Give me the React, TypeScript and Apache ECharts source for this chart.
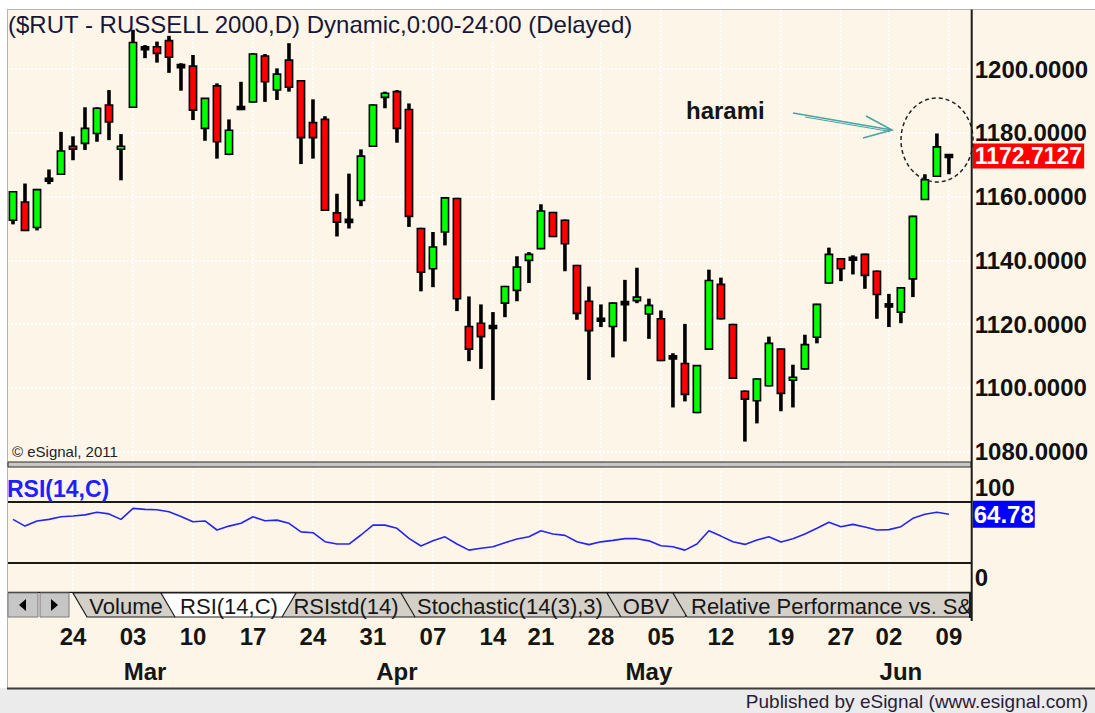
import React, { useEffect, useRef } from 'react';
import * as echarts from 'echarts';

const dates = [
  '2011-02-16', '2011-02-17', '2011-02-18', '2011-02-22', '2011-02-23', '2011-02-24', '2011-02-25', '2011-02-28',
  '2011-03-01', '2011-03-02', '2011-03-03', '2011-03-04', '2011-03-07', '2011-03-08', '2011-03-09', '2011-03-10',
  '2011-03-11', '2011-03-14', '2011-03-15', '2011-03-16', '2011-03-17', '2011-03-18', '2011-03-21', '2011-03-22',
  '2011-03-23', '2011-03-24', '2011-03-25', '2011-03-28', '2011-03-29', '2011-03-30', '2011-03-31',
  '2011-04-01', '2011-04-04', '2011-04-05', '2011-04-06', '2011-04-07', '2011-04-08', '2011-04-11', '2011-04-12',
  '2011-04-13', '2011-04-14', '2011-04-15', '2011-04-18', '2011-04-19', '2011-04-20', '2011-04-21', '2011-04-25',
  '2011-04-26', '2011-04-27', '2011-04-28', '2011-04-29',
  '2011-05-02', '2011-05-03', '2011-05-04', '2011-05-05', '2011-05-06', '2011-05-09', '2011-05-10', '2011-05-11',
  '2011-05-12', '2011-05-13', '2011-05-16', '2011-05-17', '2011-05-18', '2011-05-19', '2011-05-20', '2011-05-23',
  '2011-05-24', '2011-05-25', '2011-05-26', '2011-05-27', '2011-05-31',
  '2011-06-01', '2011-06-02', '2011-06-03', '2011-06-06', '2011-06-07', '2011-06-08', '2011-06-09',
];

const opens = [
  1152.6, 1158.3, 1150.3, 1165.3, 1167.0, 1175.6, 1176.7, 1179.8, 1188.7, 1175.0,
  1188.0, 1206.5, 1207.0, 1208.9, 1200.9, 1200.9, 1181.4, 1194.7, 1173.3, 1187.8,
  1189.7, 1204.1, 1193.4, 1202.8, 1196.3, 1183.2, 1184.2, 1154.9, 1152.4, 1158.8,
  1175.8, 1191.1, 1192.9, 1187.3, 1150.0, 1137.4, 1148.9, 1159.4, 1119.3, 1120.3,
  1119.1, 1126.6, 1130.6, 1140.0, 1143.7, 1155.0, 1152.6, 1138.4, 1127.2, 1121.4,
  1119.3, 1126.6, 1127.4, 1123.2, 1121.7, 1109.6, 1107.7, 1092.3, 1112.2, 1132.5,
  1119.9, 1099.0, 1096.0, 1100.7, 1112.2, 1102.5, 1106.0, 1115.9, 1132.9, 1140.5,
  1140.5, 1141.9, 1136.6, 1125.9, 1123.8, 1134.2, 1159.1, 1166.4, 1172.7127,
];

const highs = [
  1161.7, 1164.1, 1162.4, 1168.5, 1180.3, 1178.9, 1188.0, 1188.0, 1193.4, 1179.6,
  1212.3, 1207.5, 1208.6, 1210.4, 1201.8, 1204.4, 1190.9, 1195.5, 1184.2, 1196.0,
  1205.0, 1204.7, 1200.2, 1208.1, 1196.5, 1190.5, 1185.2, 1160.9, 1167.2, 1174.8,
  1188.9, 1192.9, 1193.4, 1189.2, 1150.2, 1148.9, 1159.9, 1159.6, 1128.7, 1126.2,
  1123.8, 1132.0, 1141.3, 1142.6, 1157.6, 1155.2, 1152.8, 1138.6, 1131.8, 1126.2,
  1126.8, 1133.9, 1137.7, 1128.0, 1124.3, 1110.9, 1120.1, 1107.2, 1137.1, 1134.6,
  1120.1, 1099.2, 1103.0, 1116.1, 1112.4, 1107.3, 1116.7, 1126.4, 1144.0, 1140.7,
  1141.6, 1142.1, 1136.8, 1129.5, 1131.6, 1154.0, 1167.0, 1179.8, 1173.2,
];

const lows = [
  1151.3, 1149.2, 1149.4, 1163.9, 1166.8, 1171.4, 1174.6, 1177.2, 1177.7, 1165.1,
  1187.9, 1203.4, 1202.0, 1198.8, 1193.2, 1184.0, 1177.5, 1171.9, 1173.0, 1187.1,
  1189.5, 1189.7, 1190.3, 1192.9, 1170.2, 1171.9, 1155.5, 1147.5, 1150.0, 1157.0,
  1175.7, 1187.7, 1176.9, 1150.5, 1130.3, 1131.6, 1144.7, 1124.1, 1108.4, 1106.0,
  1096.2, 1122.2, 1127.2, 1132.9, 1143.5, 1147.3, 1136.6, 1121.4, 1102.5, 1119.1,
  1109.6, 1114.6, 1126.6, 1115.4, 1108.4, 1093.9, 1095.8, 1092.1, 1112.0, 1121.5,
  1102.9, 1083.2, 1088.9, 1100.5, 1092.7, 1093.9, 1105.8, 1114.0, 1132.7, 1133.5,
  1135.6, 1131.1, 1121.7, 1119.1, 1120.3, 1128.5, 1159.0, 1166.2, 1167.0,
];

const closes = [
  1161.5, 1149.4, 1162.2, 1165.3, 1174.3, 1175.0, 1181.4, 1187.7, 1183.4, 1175.6,
  1208.3, 1206.5, 1204.9, 1203.7, 1200.9, 1187.1, 1190.8, 1177.2, 1180.8, 1187.8,
  1204.7, 1196.0, 1198.4, 1194.3, 1178.5, 1178.5, 1155.7, 1152.0, 1152.4, 1172.7,
  1188.7, 1192.4, 1181.4, 1153.8, 1136.3, 1144.2, 1159.6, 1128.0, 1112.2, 1116.1,
  1119.1, 1131.8, 1137.9, 1141.9, 1155.5, 1147.5, 1145.2, 1123.4, 1118.0, 1121.4,
  1126.6, 1126.6, 1128.5, 1125.9, 1108.6, 1109.6, 1098.0, 1107.0, 1133.7, 1121.7,
  1103.1, 1096.5, 1102.8, 1114.0, 1098.3, 1103.3, 1113.6, 1126.2, 1141.9, 1137.4,
  1140.5, 1135.3, 1129.3, 1125.9, 1131.4, 1153.8, 1165.3, 1175.6, 1172.7127,
];

const rsiValues = [
  60.5, 55.0, 59.2, 60.5, 62.7, 63.3, 64.2, 66.3, 65.0, 60.5,
  69.5, 68.7, 68.4, 66.7, 62.9, 58.6, 59.2, 51.8, 55.0, 57.3,
  62.7, 59.4, 59.9, 57.3, 50.3, 49.6, 42.2, 40.3, 40.3, 47.7,
  55.8, 55.8, 53.2, 45.0, 38.7, 43.0, 46.2, 40.3, 35.3, 36.8,
  38.1, 41.4, 44.4, 46.2, 51.2, 48.5, 47.4, 42.2, 39.8, 42.1,
  43.3, 44.7, 44.7, 42.9, 38.9, 38.1, 35.3, 40.3, 51.2, 46.8,
  42.2, 40.0, 43.6, 46.2, 41.9, 44.7, 48.5, 53.2, 58.1, 54.5,
  56.4, 54.2, 51.8, 52.1, 54.5, 61.4, 64.7, 66.3, 64.78,
];

const priceTicks = [1080, 1100, 1120, 1140, 1160, 1180, 1200];
const rsiTicks = [0, 100];
const rsiBands = [75, 25];
// week labels as printed by the reference, and the sessions they are printed under
const dayTickLabels = ['24', '03', '10', '17', '24', '31', '07', '14', '21', '28', '05', '12', '19', '27', '02', '09'];
const dayTickDates = [
  '2011-02-24', '2011-03-03', '2011-03-10', '2011-03-17', '2011-03-24', '2011-03-31', '2011-04-07', '2011-04-14',
  '2011-04-20', '2011-04-28', '2011-05-05', '2011-05-12', '2011-05-19', '2011-05-26', '2011-06-02', '2011-06-09',
];
const monthTickDates = ['2011-03-04', '2011-04-04', '2011-05-04', '2011-06-03'];
const monthNames = ['Mar', 'Apr', 'May', 'Jun'];
const tabNames = ['Volume', 'RSI(14,C)', 'RSIstd(14)', 'Stochastic(14(3),3)', 'OBV', 'Relative Performance vs. S&'];
const titleText = '($RUT - RUSSELL 2000,D) Dynamic,0:00-24:00 (Delayed)';
const annotationText = 'harami';

const FONT = '"Liberation Sans", Arial, sans-serif';
const CREAM = '#FDF6E8';

export default function App() {
  const ref = useRef<HTMLDivElement>(null);

  useEffect(() => {
    if (!ref.current) return;
    const chart = echarts.init(ref.current, undefined, { renderer: 'svg' });

    const lastPrice = closes[closes.length - 1];
    const lastRsi = rsiValues[rsiValues.length - 1];
    const dayIdx = dayTickDates.map((d) => dates.indexOf(d));
    const monthIdx = monthTickDates.map((d) => dates.indexOf(d));
    const xMin = -0.5;
    const xMax = 79.9;

    const candleData = dates.map((_, i) => [i, opens[i], closes[i], lows[i], highs[i]]);
    const rsiData = rsiValues.map((v, i) => [i, v]);

    const dotted = { show: true, lineStyle: { color: '#ffffff', type: 'dotted' as const, width: 2 } };

    const tabY0 = 593;
    const tabY1 = 617;
    const tabShapes = [
      [[73, tabY0], [189, tabY0], [175, tabY1], [87, tabY1]],
      [[161, tabY0], [296, tabY0], [282, tabY1], [175, tabY1]],
      [[268, tabY0], [429, tabY0], [415, tabY1], [282, tabY1]],
      [[401, tabY0], [634, tabY0], [620, tabY1], [415, tabY1]],
      [[607, tabY0], [699, tabY0], [685, tabY1], [621, tabY1]],
      [[673, tabY0], [970, tabY0], [970, tabY1], [687, tabY1]],
    ];
    const tabTextX = [126, 229, 346, 510, 646, 691];
    const drawOrder = [0, 2, 3, 4, 5, 1];
    const tabElements: any[] = [];
    drawOrder.forEach((k) => {
      tabElements.push({
        type: 'polygon',
        z: 20,
        shape: { points: tabShapes[k] },
        style: { fill: k === 1 ? '#ffffff' : '#D4D0C8', stroke: '#1e1e1e', lineWidth: 1.2 },
      });
      tabElements.push({
        type: 'text',
        z: 21,
        x: tabTextX[k],
        y: 606,
        style: {
          text: tabNames[k],
          font: `22px ${FONT}`,
          fill: '#161616',
          align: k === 5 ? 'left' : 'center',
          verticalAlign: 'middle',
        },
      });
    });

    const option: any = {
      animation: false,
      backgroundColor: CREAM,
      grid: [
        { left: 7, top: 10, width: 964.7, height: 452 },
        { left: 7, top: 471.2, width: 964.7, height: 122 },
      ],
      xAxis: [
        {
          type: 'value', gridIndex: 0, min: xMin, max: xMax,
          axisLine: { show: false }, axisLabel: { show: false },
          axisTick: { show: false, customValues: dayIdx },
          splitLine: dotted,
        },
        {
          type: 'value', gridIndex: 1, min: xMin, max: xMax, position: 'bottom',
          axisLine: { show: false },
          axisTick: { show: false, customValues: dayIdx },
          axisLabel: {
            customValues: dayIdx,
            formatter: (v: number) => dayTickLabels[dayIdx.indexOf(Math.round(v))],
            fontFamily: FONT, fontWeight: 'bold', fontSize: 24, color: '#151515', margin: 31,
          },
          splitLine: dotted,
        },
        {
          type: 'value', gridIndex: 1, min: xMin, max: xMax, position: 'bottom',
          axisLine: { show: false },
          axisTick: { show: false, customValues: monthIdx },
          axisLabel: {
            customValues: monthIdx,
            formatter: (v: number) => monthNames[monthIdx.indexOf(Math.round(v))],
            fontFamily: FONT, fontWeight: 'bold', fontSize: 24, color: '#151515', margin: 66,
          },
          splitLine: { show: false },
        },
      ],
      yAxis: [
        {
          type: 'value', gridIndex: 0, position: 'right', min: 1076.8, max: 1218.5,
          axisLine: { show: false },
          axisTick: { show: false, customValues: priceTicks },
          axisLabel: {
            customValues: priceTicks,
            formatter: (v: number) => v.toFixed(4),
            fontFamily: FONT, fontWeight: 'bold', fontSize: 24, color: '#111111', margin: 3,
          },
          splitLine: dotted,
        },
        {
          type: 'value', gridIndex: 1, position: 'right', min: 0, max: 100,
          axisLine: { show: false },
          axisTick: { show: false, customValues: rsiTicks },
          splitLine: { show: false },
          axisLabel: {
            customValues: rsiTicks,
            margin: 3,
            formatter: (v: number) => (v >= 100 ? `{t|${v}}` : `{b|${v}}`),
            rich: {
              t: { fontFamily: FONT, fontWeight: 'bold', fontSize: 24, color: '#111111', padding: [32, 0, 0, 0] },
              b: { fontFamily: FONT, fontWeight: 'bold', fontSize: 24, color: '#111111', padding: [0, 0, 32, 0] },
            },
          },
        },
      ],
      series: [
        {
          type: 'custom',
          name: 'RUT',
          xAxisIndex: 0,
          yAxisIndex: 0,
          clip: true,
          encode: { x: 0, y: [1, 2, 3, 4] },
          data: candleData,
          renderItem: (params: any, api: any) => {
            const i = api.value(0);
            const o = api.value(1);
            const c = api.value(2);
            const l = api.value(3);
            const h = api.value(4);
            const ph = api.coord([i, h]);
            const pl = api.coord([i, l]);
            const po = api.coord([i, o]);
            const pc = api.coord([i, c]);
            const x = ph[0];
            let top = Math.min(po[1], pc[1]);
            let hgt = Math.abs(po[1] - pc[1]);
            const fill = c > o ? '#00FF00' : c < o ? '#FF0000' : '#000000';
            if (hgt < 3) {
              top = (po[1] + pc[1]) / 2 - 1.5;
              hgt = 3;
            }
            return {
              type: 'group',
              children: [
                {
                  type: 'rect',
                  shape: { x: x - 1.8, y: ph[1], width: 3.6, height: pl[1] - ph[1] },
                  style: { fill: '#000000' },
                },
                {
                  type: 'rect',
                  shape: { x: x - 3.6, y: top, width: 7.2, height: hgt },
                  style: { fill, stroke: '#000000', lineWidth: 1.6 },
                },
              ],
            };
          },
          markLine: {
            silent: true,
            symbol: ['none', 'none'],
            animation: false,
            data: [
              {
                yAxis: lastPrice,
                lineStyle: { color: 'rgba(0,0,0,0)', width: 0 },
                label: {
                  show: true,
                  position: 'end',
                  distance: 1,
                  formatter: () => lastPrice.toFixed(4),
                  backgroundColor: '#FF0000',
                  color: '#ffffff',
                  fontFamily: FONT,
                  fontWeight: 'bold',
                  fontSize: 23,
                  lineHeight: 24,
                  padding: [1, 2, 0, 2],
                },
              },
            ],
          },
        },
        {
          type: 'line',
          name: 'RSI(14,C)',
          xAxisIndex: 1,
          yAxisIndex: 1,
          data: rsiData,
          showSymbol: false,
          symbol: 'none',
          lineStyle: { color: '#2424F5', width: 1.6 },
          markLine: {
            silent: true,
            symbol: ['none', 'none'],
            animation: false,
            data: [
              ...rsiBands.map((b) => ({
                yAxis: b,
                lineStyle: { color: '#1a1a1a', width: 2, type: 'solid' },
                label: { show: false },
              })),
              {
                yAxis: lastRsi,
                lineStyle: { color: 'rgba(0,0,0,0)', width: 0 },
                label: {
                  show: true,
                  position: 'end',
                  distance: 1,
                  formatter: () => lastRsi.toFixed(2),
                  backgroundColor: '#0000FF',
                  color: '#ffffff',
                  fontFamily: FONT,
                  fontWeight: 'bold',
                  fontSize: 24,
                  padding: [2, 1, 1, 1],
                },
              },
            ],
          },
        },
      ],
      graphic: [
        { type: 'rect', z: 20, shape: { x: 0, y: 0, width: 1095, height: 9 }, style: { fill: '#ffffff' } },
        { type: 'rect', z: 20, shape: { x: 0, y: 0, width: 7, height: 713 }, style: { fill: '#ffffff' } },
        { type: 'line', z: 20, shape: { x1: 7, y1: 9.5, x2: 1095, y2: 9.5 }, style: { stroke: '#b4b4b4', lineWidth: 1 } },
        { type: 'line', z: 20, shape: { x1: 7.5, y1: 9.5, x2: 7.5, y2: 688 }, style: { stroke: '#b4b4b4', lineWidth: 1 } },
        { type: 'rect', z: 20, shape: { x: 0, y: 688, width: 1095, height: 25 }, style: { fill: '#EBEBEB' } },
        { type: 'line', z: 20, shape: { x1: 7, y1: 688.5, x2: 1095, y2: 688.5 }, style: { stroke: '#3c3c3c', lineWidth: 2 } },
        {
          type: 'text', z: 21, x: 1088, y: 701,
          style: { text: 'Published by eSignal (www.esignal.com)', font: `19px ${FONT}`, fill: '#2a1c38', align: 'right', verticalAlign: 'middle' },
        },
        {
          type: 'text', z: 21, x: 8, y: 24,
          style: { text: titleText, font: `24px ${FONT}`, fill: '#16163a', align: 'left', verticalAlign: 'middle' },
        },
        {
          type: 'text', z: 21, x: 12, y: 451,
          style: { text: '\u00A9 eSignal, 2011', font: `15px ${FONT}`, fill: '#222222', align: 'left', verticalAlign: 'middle' },
        },
        { type: 'rect', z: 20, shape: { x: 8, y: 462, width: 963, height: 5 }, style: { fill: '#C8C8C8', stroke: '#2a2a2a', lineWidth: 1 } },
        {
          type: 'text', z: 21, x: 7, y: 489,
          style: { text: 'RSI(14,C)', font: `bold 23px ${FONT}`, fill: '#1F1FFF', align: 'left', verticalAlign: 'middle' },
        },
        { type: 'line', z: 22, shape: { x1: 971.7, y1: 9.5, x2: 971.7, y2: 621 }, style: { stroke: '#1c1c1c', lineWidth: 2 } },
        { type: 'line', z: 19, shape: { x1: 7.5, y1: 592.5, x2: 971, y2: 592.5 }, style: { stroke: '#1c1c1c', lineWidth: 1.5 } },
        { type: 'rect', z: 19, shape: { x: 8, y: 593, width: 963, height: 24 }, style: { fill: CREAM } },
        { type: 'rect', z: 20, shape: { x: 8, y: 593, width: 30, height: 24 }, style: { fill: '#C6C6C6', stroke: '#7a7a7a', lineWidth: 1 } },
        { type: 'rect', z: 20, shape: { x: 40, y: 593, width: 29, height: 24 }, style: { fill: '#C6C6C6', stroke: '#7a7a7a', lineWidth: 1 } },
        { type: 'polygon', z: 21, shape: { points: [[26, 599], [26, 611], [19, 605]] }, style: { fill: '#000000' } },
        { type: 'polygon', z: 21, shape: { points: [[51, 599], [51, 611], [58, 605]] }, style: { fill: '#000000' } },
        ...tabElements,
        { type: 'line', z: 22, shape: { x1: 970, y1: 592, x2: 970, y2: 618 }, style: { stroke: '#1c1c1c', lineWidth: 2 } },
        {
          type: 'ellipse', z: 15, shape: { cx: 937, cy: 140, rx: 36, ry: 42 },
          style: { fill: 'none', stroke: '#222222', lineWidth: 1.5, lineDash: [4, 3] },
        },
        {
          type: 'text', z: 15, x: 686, y: 110,
          style: { text: annotationText, font: `bold 24px ${FONT}`, fill: '#141414', align: 'left', verticalAlign: 'middle' },
        },
        { type: 'line', z: 15, shape: { x1: 793, y1: 113, x2: 892, y2: 130 }, style: { stroke: '#4AA2A2', lineWidth: 1.6 } },
        { type: 'line', z: 15, shape: { x1: 805, y1: 117, x2: 890, y2: 131.5 }, style: { stroke: '#4AA2A2', lineWidth: 1 } },
        { type: 'polyline', z: 15, shape: { points: [[866, 116], [892, 130], [863, 138]] }, style: { stroke: '#4AA2A2', lineWidth: 1.6, fill: 'none' } },
      ],
    };

    chart.setOption(option);
    return () => {
      chart.dispose();
    };
  }, []);

  return (
    <div
      ref={ref}
      style={{ position: 'fixed', left: 0, top: 0, width: 1095, height: 713 }}
    />
  );
}
